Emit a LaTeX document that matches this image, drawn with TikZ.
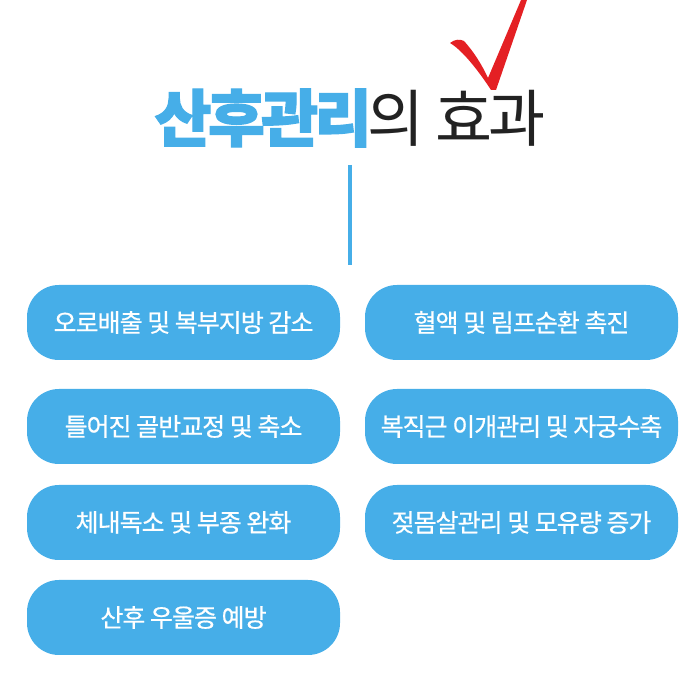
\documentclass[tikz,border=0pt]{standalone}
\usepackage{fontspec}
\usepackage{tikz}
\usetikzlibrary{positioning}
\setmainfont{Noto Sans CJK KR}
\newfontfamily\krtitle[LetterSpace=-6, BoldFeatures={FakeBold=2}]{Noto Sans CJK KR}
\newfontfamily\krbox[LetterSpace=-4, FakeBold=0.6]{Noto Sans CJK KR}
\definecolor{careblue}{RGB}{70, 174, 232}
\definecolor{titledark}{RGB}{34, 34, 34}
\definecolor{checkred}{RGB}{228, 32, 36}

\tikzset{
  effectbox/.style={fill=careblue, text=white, rounded corners=32pt,
    minimum width=313pt, minimum height=75pt, inner sep=0pt,
    font=\krbox\fontsize{25}{28}\selectfont}
}

\begin{document}
\begin{tikzpicture}[x=1pt, y=1pt]
  \useasboundingbox (0,0) rectangle (700,700);

  % Title
  \node[inner sep=0pt, font=\krtitle\fontsize{62}{70}\selectfont] (title) at (350,582)
    {\textcolor{careblue}{\textbf{산후관리}}\textcolor{titledark}{의 효과}};

  % Check mark
  \fill[checkred] (450,657) .. controls (455,661) and (460,661) .. (464,659)
    .. controls (474,648) and (482,635) .. (488,622) -- (521,700) -- (527,700)
    -- (496,610) -- (491,610) .. controls (478,630) and (462,650) .. cycle;

  % Stem
  \coordinate (stemtop) at (350,535);
  \coordinate (stembot) at (350,435);
  \draw[careblue, line width=4pt] (stemtop) -- (stembot);

  % Left column
  \node[effectbox] (lochia) at (183.5,377.5) {오로배출 및 복부지방 감소};
  \node[effectbox] (pelvis) at (183.5,273.5) {틀어진 골반교정 및 축소};
  \node[effectbox] (toxin) at (183.5,177.5) {체내독소 및 부종 완화};
  \node[effectbox] (blues) at (183.5,82.5) {산후 우울증 예방};

  % Right column
  \node[effectbox] (lymph) at (521.5,377.5) {혈액 및 림프순환 촉진};
  \node[effectbox] (uterus) at (521.5,273.5) {복직근 이개관리 및 자궁수축};
  \node[effectbox] (breast) at (521.5,177.5) {젖몸살관리 및 모유량 증가};
\end{tikzpicture}
\end{document}
